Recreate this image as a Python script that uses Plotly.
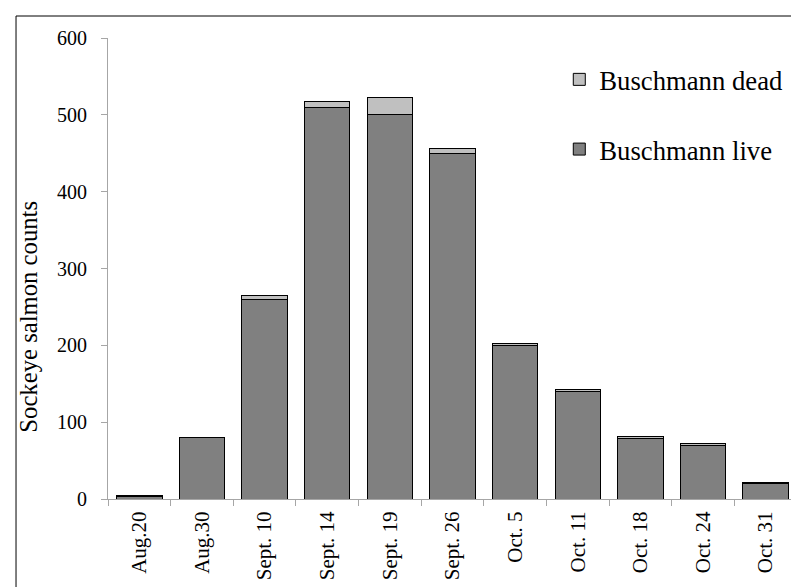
import plotly.graph_objects as go

dates = ["Aug.20", "Aug.30", "Sept. 10", "Sept. 14", "Sept. 19", "Sept. 26",
         "Oct. 5", "Oct. 11", "Oct. 18", "Oct. 24", "Oct. 31"]
live = [3, 80, 260, 510, 500, 450, 200, 140, 79, 70, 20]
dead = [1, 0, 5, 7, 23, 6, 2, 3, 2, 2, 1]
y_ticks = [0, 100, 200, 300, 400, 500, 600]

FONT = "Liberation Serif, Times New Roman, serif"

fig = go.Figure()
fig.add_trace(go.Bar(x=dates, y=live, name="Buschmann live",
                     marker=dict(color="#808080", line=dict(color="black", width=1)),
                     legendgroup="live", legendrank=2))
fig.add_trace(go.Bar(x=dates, y=dead, name="Buschmann dead",
                     marker=dict(color="#c0c0c0", line=dict(color="black", width=1)),
                     legendgroup="dead", legendrank=1))

fig.update_layout(
    width=799, height=587,
    barmode="stack", bargap=0.275,
    plot_bgcolor="white", paper_bgcolor="white",
    font=dict(family=FONT, color="black", size=20),
    margin=dict(l=100, r=10, t=30, b=96),
    legend=dict(x=0.655, y=0.962, xanchor="left", yanchor="top",
                traceorder="grouped", tracegroupgap=32,
                font=dict(size=26.7, family=FONT), bgcolor="rgba(0,0,0,0)"),
    xaxis=dict(showline=True, linecolor="#a6a6a6", linewidth=1,
               ticks="outside", tickcolor="#a6a6a6", ticklen=6,
               tickson="boundaries", tickangle=-90, automargin=False,
               ticklabelstandoff=3,
               tickfont=dict(size=21, family=FONT)),
    yaxis=dict(range=[0, 600], tickvals=y_ticks, showline=True,
               linecolor="#a6a6a6", linewidth=1, ticks="outside",
               tickcolor="#a6a6a6", ticklen=6, showgrid=False, zeroline=False,
               automargin=False, ticklabelstandoff=10,
               tickfont=dict(size=20, family=FONT)),
    annotations=[dict(text="Sockeye salmon counts", textangle=-90,
                      xref="paper", yref="paper", x=-0.115, y=0.395,
                      xanchor="center", yanchor="middle", showarrow=False,
                      font=dict(size=24.7, family=FONT, color="black"))],
    shapes=[dict(type="rect", xref="paper", yref="paper",
                 x0=-0.1335, x1=1.0029, y0=-0.193, y1=1.0477,
                 line=dict(color="black", width=1), fillcolor="rgba(0,0,0,0)")],
)

fig.write_html("out.html")
